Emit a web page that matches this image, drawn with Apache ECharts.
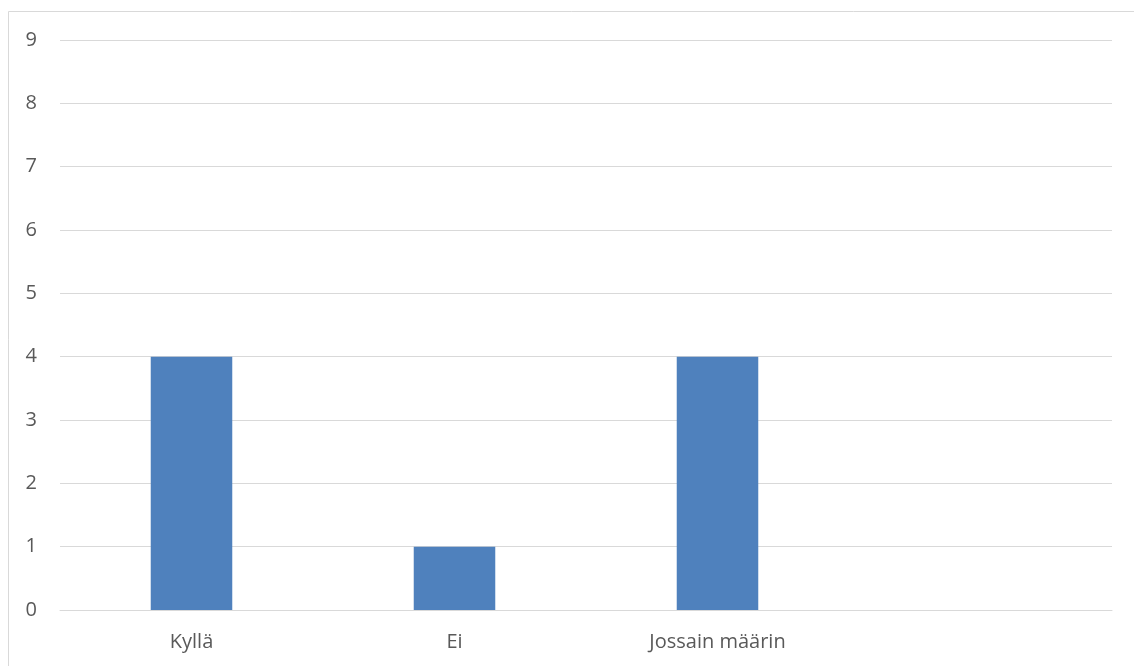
<!DOCTYPE html>
<html>
<head>
<meta charset="utf-8">
<script src="https://cdn.jsdelivr.net/npm/echarts@6/dist/echarts.min.js"></script>
<style>
  html, body { margin: 0; padding: 0; background: #ffffff; }
  #chart { width: 1134px; height: 666px; }
</style>
</head>
<body>
<div id="chart"></div>
<script>
// Answer categories (the last slot is left empty)
const categories = ['Kyllä', 'Ei', 'Jossain määrin', ''];
// Number of responses per category
const responses = [4, 1, 4, null];
// Value axis range
const yMin = 0;
const yMax = 9;
const yStep = 1;

const chart = echarts.init(document.getElementById('chart'), null, { renderer: 'canvas' });
const font = 'Open Sans, Liberation Sans, sans-serif';

chart.setOption({
  animation: false,
  backgroundColor: '#ffffff',
  graphic: [{
    type: 'rect',
    shape: { x: 8.5, y: 11.5, width: 1200, height: 700 },
    style: { fill: 'none', stroke: '#d9d9d9', lineWidth: 1 },
    silent: true
  }],
  grid: { left: 60, right: 22, top: 40, bottom: 56 },
  xAxis: {
    type: 'category',
    data: categories,
    axisLine: { show: true, lineStyle: { color: '#d9d9d9', width: 1 } },
    axisTick: { show: false },
    axisLabel: { color: '#595959', fontSize: 20, fontFamily: font, margin: 22 }
  },
  yAxis: {
    type: 'value',
    min: yMin,
    max: yMax,
    interval: yStep,
    axisLine: { show: false },
    axisTick: { show: false },
    splitLine: { lineStyle: { color: '#d9d9d9', width: 1 } },
    axisLabel: { color: '#595959', fontSize: 20, fontFamily: font, margin: 23 }
  },
  series: [{
    type: 'bar',
    data: responses,
    barWidth: '31%',
    itemStyle: { color: '#4f81bd' }
  }]
});
</script>
</body>
</html>
